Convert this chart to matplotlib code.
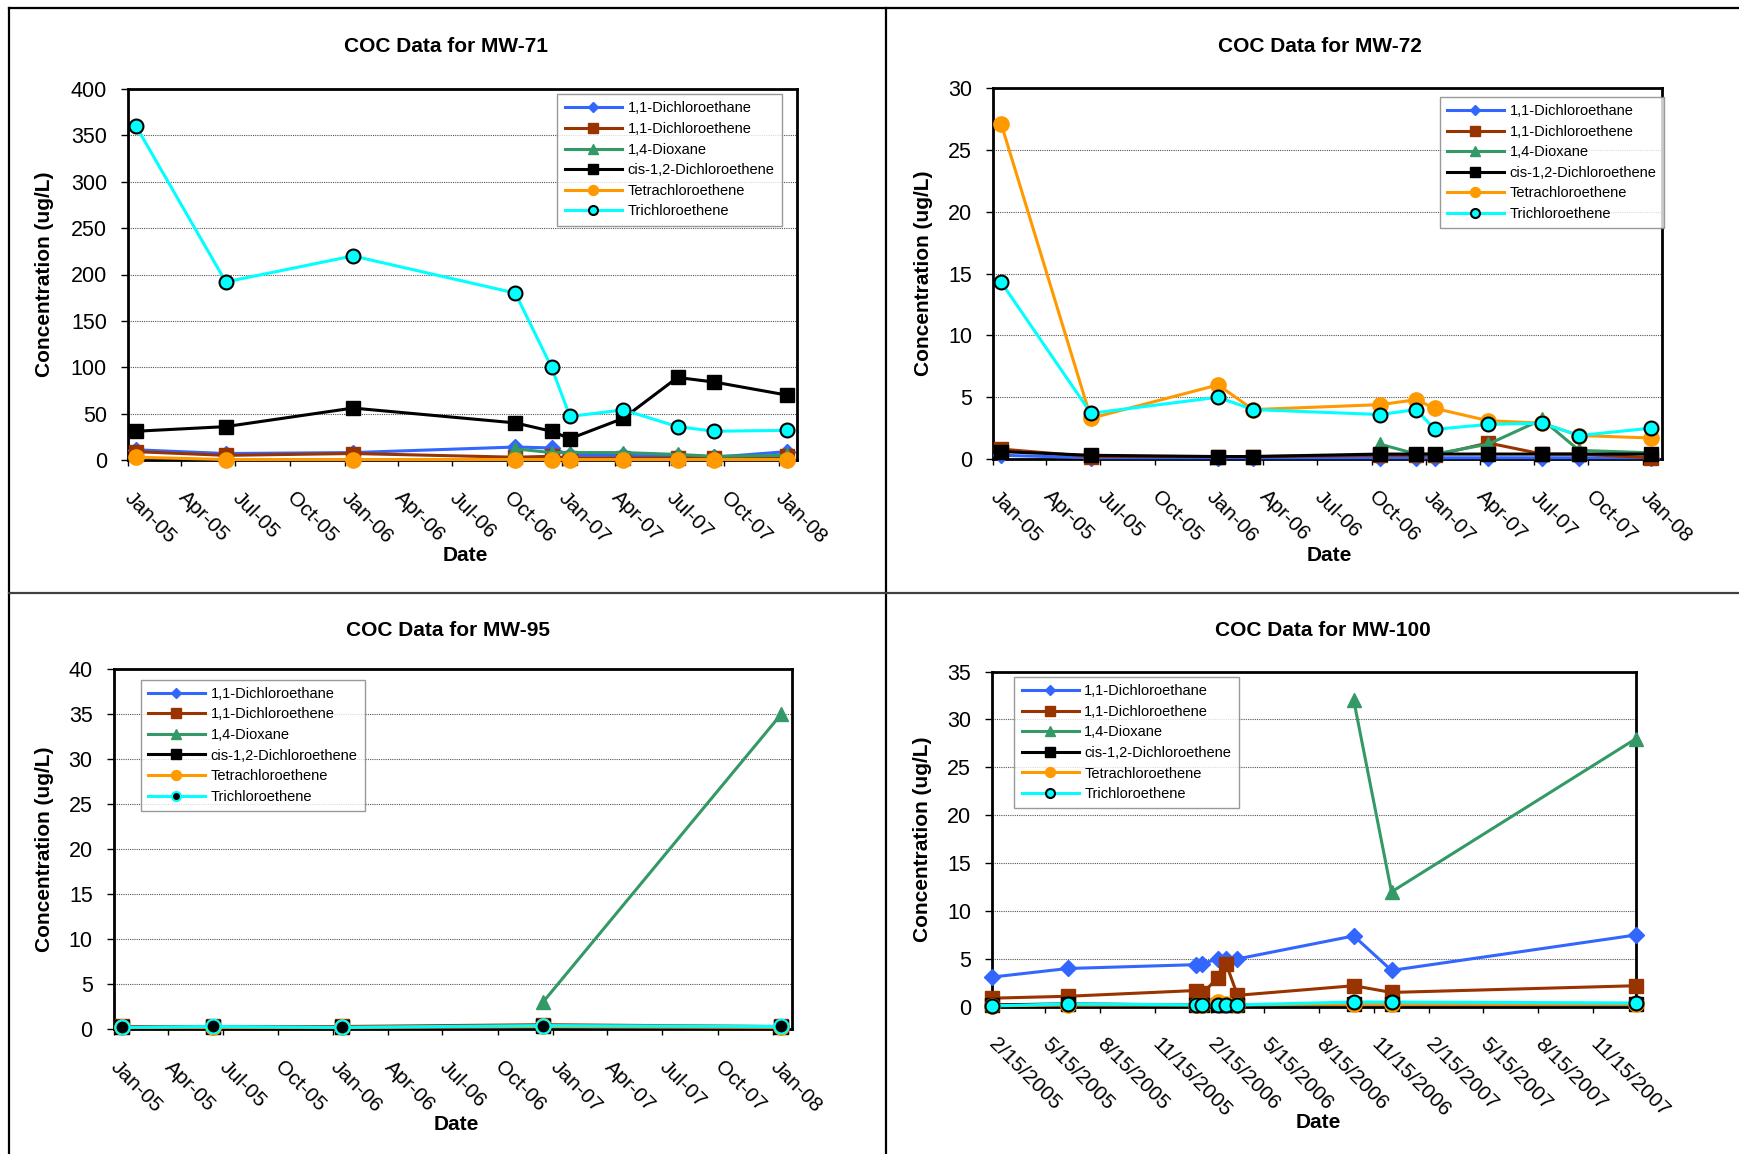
import matplotlib
matplotlib.use("Agg")
import matplotlib.pyplot as plt
from matplotlib.lines import Line2D
import numpy as np
from datetime import date

plt.rcParams['font.family'] = ['Liberation Sans', 'DejaVu Sans']

W, H = 1739, 1154

names = ["1,1-Dichloroethane", "1,1-Dichloroethene", "1,4-Dioxane",
         "cis-1,2-Dichloroethene", "Tetrachloroethene", "Trichloroethene"]
nan = np.nan

# ---- MW-71 ----
mw71_dates = ["2005-01-15", "2005-06-15", "2006-01-15", "2006-10-15", "2006-12-15",
              "2007-01-15", "2007-04-15", "2007-07-15", "2007-09-15", "2008-01-15"]
mw71_dca = [11, 7, 8, 14, 13, 5, 5, 4, 3, 9]
mw71_dce = [9, 5, 7, 3, 4, 2, 2, 2, 2, 4]
mw71_diox = [nan, nan, nan, 12, 8, 8, 8, 6, 4, 5]
mw71_cis = [31, 36, 56, 40, 31, 23, 45, 89, 84, 70]
mw71_pce = [3, 0.5, 0.5, 0.5, 0.5, 0.5, 0.5, 0.5, 0.5, 0.5]
mw71_tce = [360, 192, 220, 180, 100, 47, 54, 36, 31, 32]

# ---- MW-72 ----
mw72_dates = ["2005-01-15", "2005-06-15", "2006-01-15", "2006-03-15", "2006-10-15",
              "2006-12-15", "2007-01-15", "2007-04-15", "2007-07-15", "2007-09-15",
              "2008-01-15"]
mw72_dca = [0.3, 0.1, 0.1, 0.1, 0.1, 0.1, 0.1, 0.1, 0.1, 0.1, 0.1]
mw72_dce = [0.8, 0.2, 0.2, 0.2, 0.3, 0.3, 0.3, 1.3, 0.4, 0.4, 0.1]
mw72_diox = [nan, nan, nan, nan, 1.2, 0.4, 0.4, 1.2, 3.2, 0.7, 0.5]
mw72_cis = [0.6, 0.3, 0.2, 0.2, 0.4, 0.4, 0.4, 0.4, 0.4, 0.4, 0.4]
mw72_pce = [27.1, 3.3, 6.0, 4.0, 4.4, 4.8, 4.1, 3.1, 2.9, 1.9, 1.7]
mw72_tce = [14.3, 3.7, 5.0, 4.0, 3.6, 4.0, 2.4, 2.8, 2.9, 1.9, 2.5]

# ---- MW-95 ----
mw95_dates = ["2005-01-15", "2005-06-15", "2006-01-15", "2006-12-15", "2008-01-15"]
mw95_dca = [0.2, 0.2, 0.2, 0.3, 0.2]
mw95_dce = [0.3, 0.3, 0.3, 0.5, 0.3]
mw95_diox = [nan, nan, nan, 3, 35]
mw95_cis = [0.2, 0.2, 0.2, 0.3, 0.2]
mw95_pce = [0.2, 0.2, 0.2, 0.3, 0.2]
mw95_tce = [0.2, 0.3, 0.2, 0.4, 0.3]

# ---- MW-100 ----
mw100_dates = ["2005-02-15", "2005-06-22", "2006-01-21", "2006-02-01", "2006-02-27",
               "2006-03-13", "2006-04-01", "2006-10-12", "2006-12-14", "2008-01-26"]
mw100_dca = [3.1, 4.0, 4.4, 4.5, 5.0, 5.0, 5.0, 7.4, 3.8, 7.5]
mw100_dce = [0.9, 1.1, 1.7, 1.4, 3.0, 4.5, 1.2, 2.2, 1.5, 2.2]
mw100_diox = [nan, nan, nan, nan, nan, nan, nan, 32, 12, 28]
mw100_cis = [0.2, 0.3, 0.2, 0.2, 0.2, 0.2, 0.2, 0.3, 0.3, 0.3]
mw100_pce = [0.1, 0.2, 0.2, 0.2, 0.5, 0.3, 0.2, 0.3, 0.3, 0.3]
mw100_tce = [0.1, 0.3, 0.2, 0.2, 0.2, 0.2, 0.2, 0.5, 0.5, 0.4]

styles = [
    dict(color="#3366FF", marker="D", ms=8, mfc="#3366FF", mec="#3366FF"),
    dict(color="#993300", marker="s", ms=10, mfc="#993300", mec="#993300"),
    dict(color="#339966", marker="^", ms=10, mfc="#339966", mec="#339966"),
    dict(color="black", marker="s", ms=10, mfc="black", mec="black"),
    dict(color="#FF9900", marker="o", ms=11, mfc="#FF9900", mec="#FF9900"),
    dict(color="#00FFFF", marker="o", ms=10, mfc="#00FFFF", mec="black", mew=1.5),
]


def quarter_ticks(y0, m0, day, n):
    out = []
    for k in range(n):
        m = m0 - 1 + 3 * k
        out.append(date(y0 + m // 12, m % 12 + 1, day))
    return out


def px_axes(left, right, top, bottom):
    return fig.add_axes([left / W, 1 - bottom / H, (right - left) / W, (bottom - top) / H])


fig = plt.figure(figsize=(W / 100, H / 100), dpi=100)

panels = [
    dict(title="COC Data for MW-71", box=(127.7, 797, 89, 460), ymax=400, ystep=50,
         dates=mw71_dates, series=[mw71_dca, mw71_dce, mw71_diox, mw71_cis, mw71_pce, mw71_tce],
         xlim=(date(2005, 1, 1), date(2008, 2, 1)), ticks=quarter_ticks(2005, 1, 1, 13), fmt="mon",
         leg=(0.642, 0.986), title_xy=(446, 46), ylab_x=45, xlab=(465, 556), tce_face=None),
    dict(title="COC Data for MW-72", box=(993, 1661.5, 88.4, 459), ymax=30, ystep=5,
         dates=mw72_dates, series=[mw72_dca, mw72_dce, mw72_diox, mw72_cis, mw72_pce, mw72_tce],
         xlim=(date(2005, 1, 1), date(2008, 2, 1)), ticks=quarter_ticks(2005, 1, 1, 13), fmt="mon",
         leg=(0.668, 0.977), title_xy=(1320, 46), ylab_x=923, xlab=(1329, 556), tce_face=None),
    dict(title="COC Data for MW-95", box=(113.5, 791.7, 668.8, 1029.2), ymax=40, ystep=5,
         dates=mw95_dates, series=[mw95_dca, mw95_dce, mw95_diox, mw95_cis, mw95_pce, mw95_tce],
         xlim=(date(2005, 1, 1), date(2008, 2, 1)), ticks=quarter_ticks(2005, 1, 1, 13), fmt="mon",
         leg=(0.040, 0.970), title_xy=(448, 631), ylab_x=45, xlab=(456, 1125), tce_face="black"),
    dict(title="COC Data for MW-100", box=(991.8, 1636, 671.6, 1006.8), ymax=35, ystep=5,
         dates=mw100_dates, series=[mw100_dca, mw100_dce, mw100_diox, mw100_cis, mw100_pce, mw100_tce],
         xlim=(date(2005, 2, 15), date(2008, 1, 26)), ticks=quarter_ticks(2005, 2, 15, 12), fmt="mdy",
         leg=(0.035, 0.984), title_xy=(1323, 631), ylab_x=922, xlab=(1318, 1123), tce_face=None),
]

for p in panels:
    l, r, t, b = p["box"]
    ax = px_axes(l, r, t, b)
    x = np.array(p["dates"], dtype="datetime64[D]")
    handles = []
    for i, (vals, st) in enumerate(zip(p["series"], styles)):
        st = dict(st)
        if i == 5 and p["tce_face"]:
            st["mfc"] = p["tce_face"]
            st["mec"] = "#00FFFF"
        ln, = ax.plot(x, vals, lw=2.2, label=names[i], clip_on=False, zorder=3 + i, **st)
        handles.append(ln)

    ax.set_xlim(*p["xlim"])
    ax.set_ylim(0, p["ymax"])
    ax.set_yticks(np.arange(0, p["ymax"] + 1, p["ystep"]))
    ax.set_xticks(p["ticks"])
    if p["fmt"] == "mon":
        labels = [d.strftime("%b-%y") for d in p["ticks"]]
    else:
        labels = [f"{d.month}/{d.day}/{d.year}" for d in p["ticks"]]
    ax.set_xticklabels(labels, rotation=-45, ha="left", va="center", rotation_mode="anchor",
                       fontsize=15)
    ax.tick_params(axis="x", direction="out", length=4, width=1, pad=21)
    ax.tick_params(axis="y", direction="out", length=5, width=1, pad=10, labelsize=15.5)
    ax.yaxis.grid(True, linestyle=(0, (1, 1)), color="#555555", lw=0.8)
    ax.set_axisbelow(True)
    for s in ax.spines.values():
        s.set_linewidth(2)
        s.set_color("black")

    leg = ax.legend(handles=handles, loc="upper left", bbox_to_anchor=p["leg"], borderaxespad=0,
                    fontsize=10.5, frameon=True, fancybox=False, edgecolor="#808080",
                    handlelength=3.9, handletextpad=0.4, labelspacing=0.45, markerscale=0.65,
                    borderpad=0.5)
    leg.get_frame().set_linewidth(1)
    leg.set_zorder(20)

    tx, ty = p["title_xy"]
    fig.text(tx / W, 1 - ty / H, p["title"], ha="center", va="center", fontsize=15,
             fontweight="bold")
    fig.text(p["ylab_x"] / W, 1 - ((t + b) / 2) / H, "Concentration (ug/L)", rotation=90,
             ha="center", va="center", fontsize=15, fontweight="bold")
    fig.text(p["xlab"][0] / W, 1 - p["xlab"][1] / H, "Date", ha="center", va="center",
             fontsize=15, fontweight="bold")

# panel frame lines
def frame_line(x0, y0, x1, y1, c="black", lw=1.6):
    fig.add_artist(Line2D([x0 / W, x1 / W], [1 - y0 / H, 1 - y1 / H], color=c, lw=lw))

frame_line(8.5, 7.6, W, 7.6)
frame_line(8.5, 7.6, 8.5, H)
frame_line(886, 7.6, 886, H)
frame_line(8.5, 593, W, 593, c="#404040")

fig.savefig("out.png", dpi=100)
